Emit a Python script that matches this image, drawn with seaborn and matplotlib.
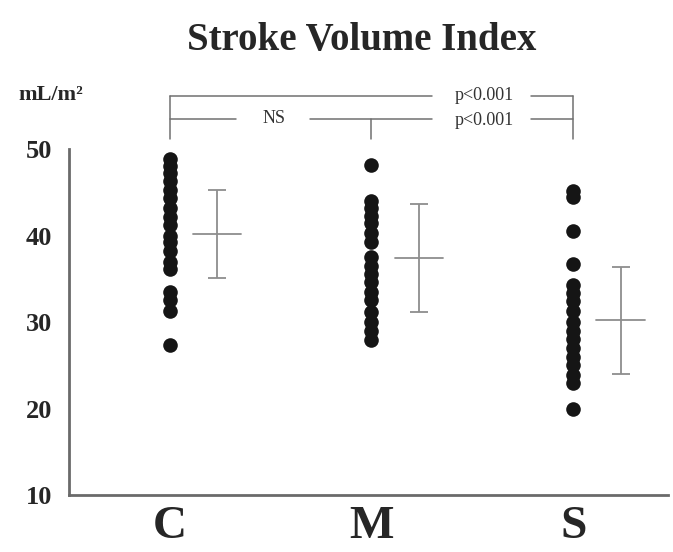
import matplotlib
matplotlib.use("Agg")
import matplotlib.pyplot as plt
import seaborn as sns
import pandas as pd
import numpy as np

groups = ["C", "M", "S"]
c_vals = [48.8, 48.0, 47.2, 46.3, 45.3, 44.3, 43.2, 42.2, 41.2, 40.0, 39.3, 38.2, 37.0, 36.1, 33.5, 32.5, 31.3, 27.3]
m_vals = [48.2, 44.0, 43.2, 42.3, 41.5, 40.3, 39.3, 37.5, 36.5, 35.6, 34.6, 33.5, 32.5, 31.2, 30.0, 29.0, 27.9]
s_vals = [45.2, 44.4, 40.5, 36.7, 34.3, 33.4, 32.4, 31.3, 30.0, 29.0, 28.0, 27.0, 26.0, 25.0, 23.9, 23.0, 20.0]
means = [40.2, 37.4, 30.2]
sds = [5.05, 6.2, 6.2]
yticks = [10, 20, 30, 40, 50]

df = pd.DataFrame({
    "group": ["C"] * len(c_vals) + ["M"] * len(m_vals) + ["S"] * len(s_vals),
    "value": c_vals + m_vals + s_vals,
})

sns.set_style("white")
plt.rcParams["font.family"] = ["Liberation Serif", "DejaVu Serif"]

fig = plt.figure(figsize=(6.73, 5.52), dpi=100)
ax = fig.add_axes([0.1025, 0.103, 0.89, 0.627])

sns.stripplot(data=df, x="group", y="value", order=groups, jitter=False,
              color="#151515", size=10.5, linewidth=0, ax=ax, zorder=3)

xpos = np.arange(len(groups)) + 0.235
ax.errorbar(xpos, means, yerr=sds, fmt="none", ecolor="#8e8e8e",
            elinewidth=1.3, capsize=6.5, capthick=1.3, zorder=2)
for x, m in zip(xpos, means):
    ax.plot([x - 0.12, x + 0.12], [m, m], color="#8e8e8e", lw=1.3, zorder=2)

ax.set_xlim(-0.5, 2.47)
ax.set_ylim(10, 50)
ax.set_yticks(yticks)
ax.set_yticklabels([str(t) for t in yticks], fontsize=19, fontweight="bold")
ax.set_xticks(range(len(groups)))
ax.set_xticklabels(groups, fontsize=34, fontweight="bold")
ax.set_xlabel("")
ax.set_ylabel("")
ax.tick_params(axis="y", direction="in", length=5, width=1.5, color="#666666", pad=12)
ax.tick_params(axis="x", length=0, pad=8)
for s in ["top", "right"]:
    ax.spines[s].set_visible(False)
for s in ["left", "bottom"]:
    ax.spines[s].set_color("#6a6a6a")
    ax.spines[s].set_linewidth(2)

# Title and unit label
fig.text(0.538, 0.926, "Stroke Volume Index", ha="center", va="center",
         fontsize=28, fontweight="bold")
fig.text(0.027, 0.828, "mL/m²", ha="left", va="center", fontsize=16, fontweight="bold")

# Significance brackets
lc = "#707070"
y_top, y_mid, y_end = 56.15, 53.5, 51.15
kw = dict(color=lc, lw=1.1, clip_on=False)
ax.plot([0, 0], [y_end, y_top], **kw)
ax.plot([2, 2], [y_end, y_top], **kw)
ax.plot([1, 1], [y_end, y_mid], **kw)
# top bracket: C vs S
ax.plot([0, 1.3], [y_top, y_top], **kw)
ax.plot([1.79, 2], [y_top, y_top], **kw)
ax.text(1.56, y_top, "p<0.001", ha="center", va="center", fontsize=13, color="#333333")
# lower bracket: C vs M (NS), M vs S
ax.plot([0, 0.33], [y_mid, y_mid], **kw)
ax.plot([0.695, 1.3], [y_mid, y_mid], **kw)
ax.plot([1.79, 2], [y_mid, y_mid], **kw)
ax.text(0.516, y_mid, "NS", ha="center", va="center", fontsize=13, color="#333333")
ax.text(1.56, y_mid - 0.25, "p<0.001", ha="center", va="center", fontsize=13, color="#333333")

fig.savefig("out.png", dpi=100, facecolor="white")
